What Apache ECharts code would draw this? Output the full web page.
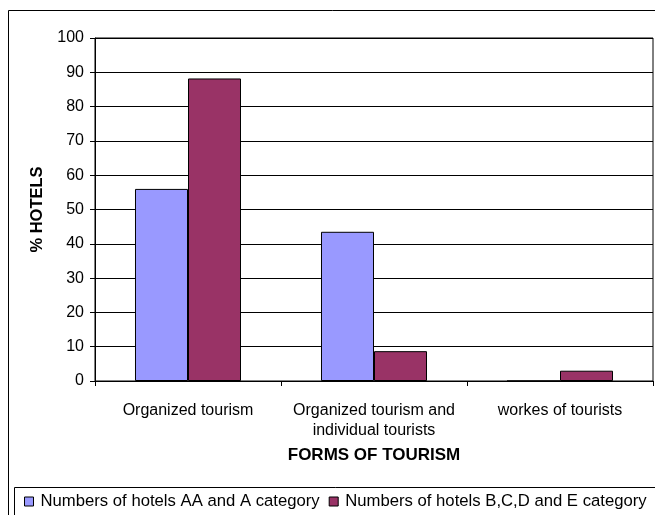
<!DOCTYPE html>
<html><head><meta charset="utf-8">
<script src="https://cdn.jsdelivr.net/npm/echarts@6/dist/echarts.min.js"></script>
<style>html,body{margin:0;padding:0;background:#fff}#c{width:655px;height:515px}</style>
</head><body><div id="c"></div>
<script>
const categories = ["Organized tourism", "Organized tourism and\nindividual tourists", "workes of tourists"];
const seriesNames = ["Numbers of hotels AA and A category", "Numbers of hotels B,C,D and E category"];
const valuesAA = [56, 43.5, 0];
const valuesBCDE = [88.2, 8.7, 3];
const yTicks = [0, 10, 20, 30, 40, 50, 60, 70, 80, 90, 100];
const xTitle = "FORMS OF TOURISM";
const yTitle = "% HOTELS";

const chart = echarts.init(document.getElementById('c'), null, {renderer: 'canvas'});
const font = "'Liberation Sans', Arial, sans-serif";
chart.setOption({
  animation: false,
  textStyle: {fontFamily: font},
  graphic: [
    {type: 'rect', shape: {x: 8.5, y: 10.5, width: 660, height: 520}, style: {fill: 'none', stroke: '#000', lineWidth: 1}, silent: true, z: 0},
    {type: 'rect', shape: {x: 14.5, y: 487.5, width: 660, height: 40}, style: {fill: 'none', stroke: '#000', lineWidth: 1}, silent: true, z: 0}
  ],
  grid: {left: 95, right: 2, top: 38, bottom: 134, show: true, borderColor: '#000', borderWidth: 1, backgroundColor: 'transparent'},
  legend: {
    left: 19, top: 488, itemWidth: 9, itemHeight: 9, itemGap: 9,
    icon: 'rect',
    textStyle: {fontFamily: font, fontSize: 16.7, color: '#000', padding: [0, 0, 0, 2]},
    data: seriesNames.map(n => ({name: n, itemStyle: {borderColor: '#000', borderWidth: 1}}))
  },
  xAxis: {
    type: 'category', data: categories,
    name: xTitle, nameLocation: 'middle', nameGap: 66,
    nameTextStyle: {fontFamily: font, fontSize: 17, fontWeight: 'bold', color: '#000'},
    axisLine: {lineStyle: {color: '#000', width: 1}},
    axisTick: {show: true, length: 5, lineStyle: {color: '#000'}},
    axisLabel: {fontFamily: font, fontSize: 16, color: '#000', margin: 20, lineHeight: 20, interval: 0}
  },
  yAxis: {
    type: 'value', min: 0, max: 100, interval: 10,
    name: yTitle, nameLocation: 'middle', nameGap: 48,
    nameTextStyle: {fontFamily: font, fontSize: 16.5, fontWeight: 'bold', color: '#000'},
    axisLine: {show: true, lineStyle: {color: '#000', width: 1}},
    axisTick: {show: true, length: 5, lineStyle: {color: '#000'}},
    axisLabel: {fontFamily: font, fontSize: 16, color: '#000', margin: 11,
      formatter: v => yTicks.includes(v) ? String(v) : ''},
    splitLine: {show: true, lineStyle: {color: '#000', width: 1}}
  },
  series: [
    {name: seriesNames[0], type: 'bar', data: valuesAA, barGap: '0%', barCategoryGap: '43%',
     itemStyle: {color: '#9999ff', borderColor: '#000', borderWidth: 1}},
    {name: seriesNames[1], type: 'bar', data: valuesBCDE, barGap: '0%', barCategoryGap: '43%',
     itemStyle: {color: '#993366', borderColor: '#000', borderWidth: 1}}
  ]
});
</script></body></html>
